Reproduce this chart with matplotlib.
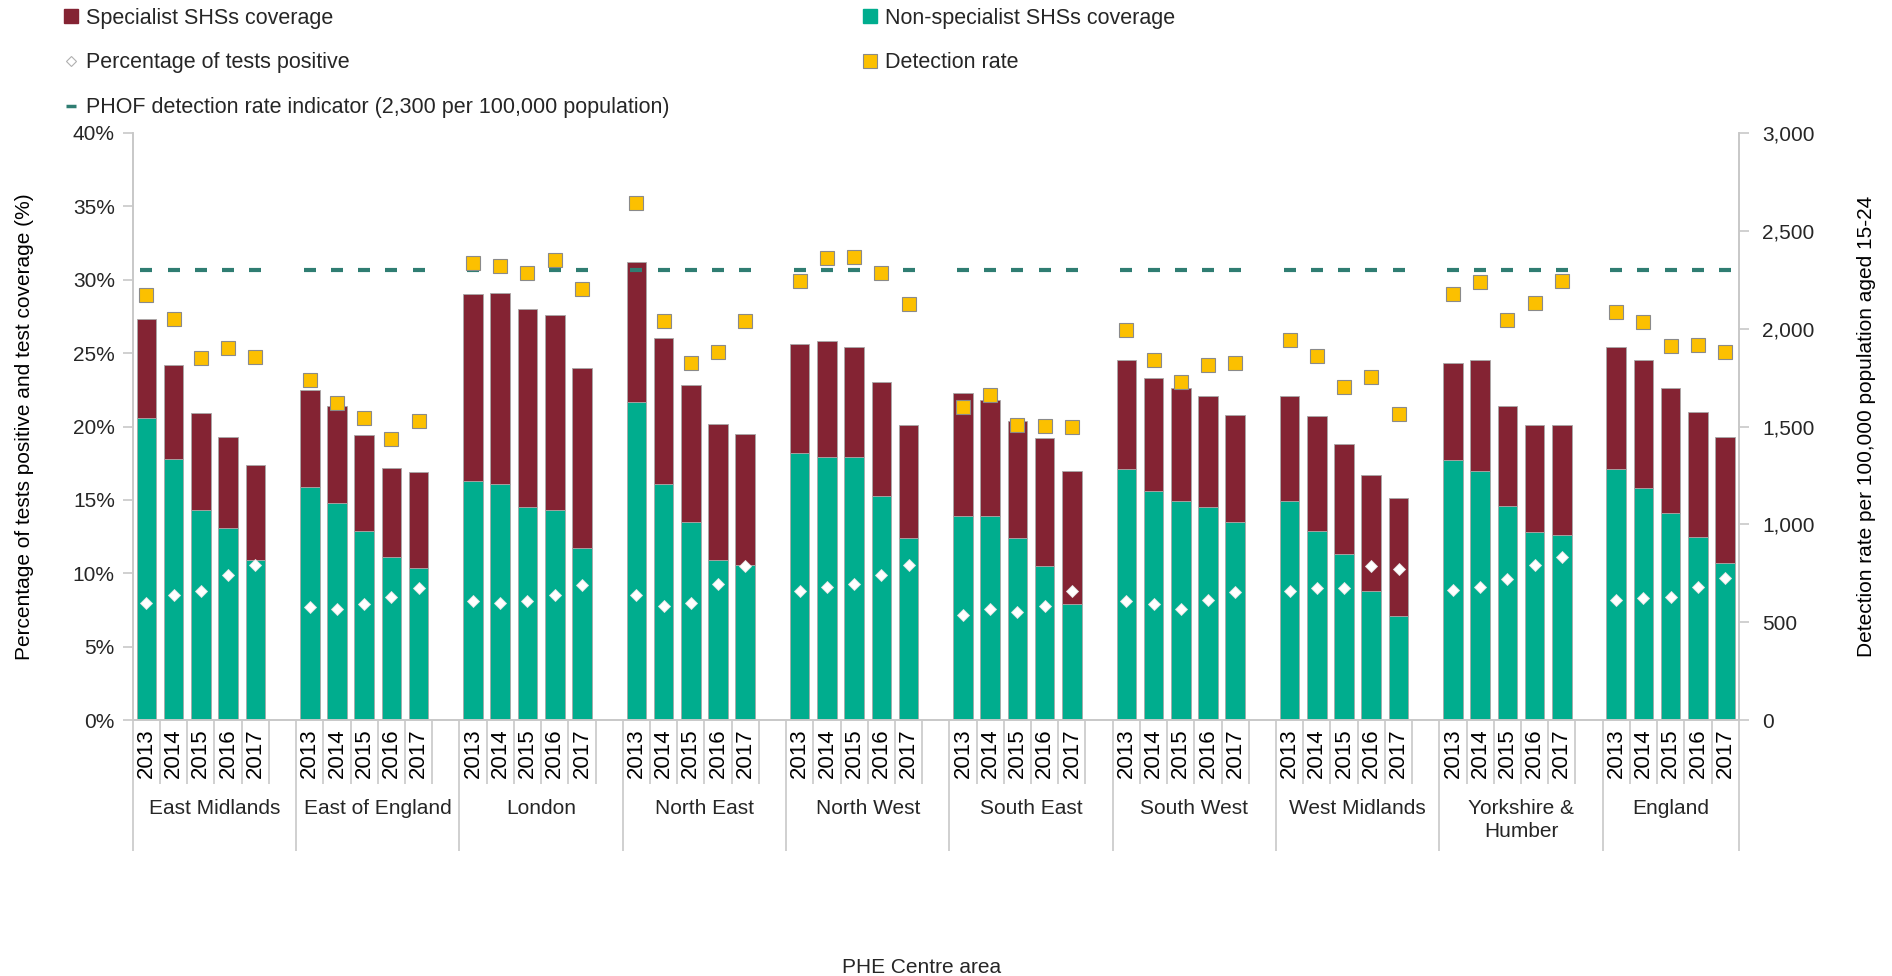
import matplotlib.pyplot as plt
from matplotlib.lines import Line2D
from matplotlib.ticker import FuncFormatter, MultipleLocator
import numpy as np

plt.rcParams['font.family'] = ['Liberation Sans', 'DejaVu Sans']
plt.rcParams['text.color'] = '#262626'

areas = ['East Midlands', 'East of England', 'London', 'North East', 'North West',
         'South East', 'South West', 'West Midlands', 'Yorkshire &\nHumber', 'England']
years = ['2013', '2014', '2015', '2016', '2017']

# coverage (%) split by service type, one row per area, 2013-2017
non_specialist = [
    [20.6, 17.8, 14.3, 13.1, 10.9],
    [15.9, 14.8, 12.9, 11.1, 10.4],
    [16.3, 16.1, 14.5, 14.3, 11.7],
    [21.7, 16.1, 13.5, 10.9, 10.6],
    [18.2, 17.9, 17.9, 15.3, 12.4],
    [13.9, 13.9, 12.4, 10.5, 7.9],
    [17.1, 15.6, 14.9, 14.5, 13.5],
    [14.9, 12.9, 11.3, 8.8, 7.1],
    [17.7, 17.0, 14.6, 12.8, 12.6],
    [17.1, 15.8, 14.1, 12.5, 10.7],
]
specialist = [
    [6.7, 6.4, 6.6, 6.2, 6.5],
    [6.6, 6.6, 6.5, 6.1, 6.5],
    [12.7, 13.0, 13.5, 13.3, 12.3],
    [9.5, 9.9, 9.3, 9.3, 8.9],
    [7.4, 7.9, 7.5, 7.7, 7.7],
    [8.4, 7.9, 8.0, 8.7, 9.1],
    [7.4, 7.7, 7.7, 7.6, 7.3],
    [7.2, 7.8, 7.5, 7.9, 8.0],
    [6.6, 7.5, 6.8, 7.3, 7.5],
    [8.3, 8.7, 8.5, 8.5, 8.6],
]
positivity = [
    [8.0, 8.5, 8.8, 9.9, 10.6],
    [7.7, 7.6, 7.9, 8.4, 9.0],
    [8.1, 8.0, 8.1, 8.5, 9.2],
    [8.5, 7.8, 8.0, 9.3, 10.5],
    [8.8, 9.1, 9.3, 9.9, 10.6],
    [7.2, 7.6, 7.4, 7.8, 8.8],
    [8.1, 7.9, 7.6, 8.2, 8.7],
    [8.8, 9.0, 9.0, 10.5, 10.3],
    [8.9, 9.1, 9.6, 10.6, 11.1],
    [8.2, 8.3, 8.4, 9.1, 9.7],
]
# detection rate per 100,000 population aged 15-24
detection = [
    [2173, 2048, 1848, 1899, 1853],
    [1735, 1622, 1541, 1436, 1529],
    [2335, 2319, 2285, 2349, 2204],
    [2640, 2040, 1822, 1879, 2038],
    [2244, 2360, 2368, 2283, 2125],
    [1602, 1663, 1509, 1503, 1499],
    [1992, 1838, 1729, 1812, 1822],
    [1941, 1859, 1703, 1754, 1562],
    [2177, 2239, 2046, 2132, 2243],
    [2086, 2034, 1913, 1915, 1881],
]
phof_target = 2300

maroon = '#842333'
teal = '#00ad8e'
gold = '#fcc000'
dash_col = '#2f7d72'
grey = '#c8c8c8'

# each area gets 5 year slots plus an empty slot, except the last one
n_groups = len(areas)
slots_per_group = [6] * (n_groups - 1) + [5]
group_start = np.concatenate([[0], np.cumsum(slots_per_group)[:-1]])
n_slots = int(sum(slots_per_group))

x = np.array([[group_start[g] + s + 0.5 for s in range(len(years))] for g in range(n_groups)])
ns = np.array(non_specialist)
sp = np.array(specialist)
pos = np.array(positivity)
det = np.array(detection)

fig = plt.figure(figsize=(18.92, 9.76), dpi=100)
ax = fig.add_axes([0.0702, 0.262, 0.8488, 0.602])
ax2 = ax.twinx()

bw = 0.72
ax.bar(x.ravel(), ns.ravel(), width=bw, color=teal, edgecolor='#a8a8a8', linewidth=0.6, zorder=2)
ax.bar(x.ravel(), sp.ravel(), width=bw, bottom=ns.ravel(), color=maroon,
       edgecolor='#a8a8a8', linewidth=0.6, zorder=2)
ax.plot(x.ravel(), pos.ravel(), linestyle='none', marker='D', markersize=6,
        markerfacecolor='white', markeredgecolor='#e4e4e4', markeredgewidth=0.6, zorder=4)

ax2.plot(x.ravel(), [phof_target] * x.size, linestyle='none', marker='_', markersize=8,
         markeredgewidth=3, color=dash_col, zorder=3)
ax2.plot(x.ravel(), det.ravel(), linestyle='none', marker='s', markersize=9.5,
         markerfacecolor=gold, markeredgecolor='#8a8a8a', markeredgewidth=0.8, zorder=4)

ax.set_xlim(0, n_slots)
ax.set_ylim(0, 40)
ax2.set_ylim(0, 3000)
ax.yaxis.set_major_locator(MultipleLocator(5))
ax2.yaxis.set_major_locator(MultipleLocator(500))
ax.yaxis.set_major_formatter(FuncFormatter(lambda v, p: f'{v:.0f}%'))
ax2.yaxis.set_major_formatter(FuncFormatter(lambda v, p: f'{v:,.0f}'))

for a in (ax, ax2):
    a.spines['top'].set_visible(False)
    for side in ('left', 'right', 'bottom'):
        a.spines[side].set_color(grey)
        a.spines[side].set_linewidth(1.2)
    a.tick_params(axis='y', colors=grey, labelcolor='#262626', labelsize=15, length=7, width=1.2)
ax.tick_params(axis='y', pad=6)
ax2.tick_params(axis='y', pad=10)

# year labels under each bar, blanks in the spacer slots
tick_pos = np.arange(n_slots) + 0.5
tick_lab = []
for g in range(n_groups):
    tick_lab += years + [''] * (slots_per_group[g] - len(years))
ax.set_xticks(tick_pos)
ax.set_xticklabels(tick_lab, rotation=90, fontsize=16, va='top')
ax.tick_params(axis='x', length=0, pad=6)

# category separators: short ones between years, long ones between areas
xt = ax.get_xaxis_transform()
group_edges = list(group_start) + [n_slots]
year_edges = [k for k in range(n_slots + 1) if k not in group_edges]
ax.vlines(year_edges, -0.108, 0, transform=xt, colors=grey, linewidth=1.2, clip_on=False)
ax.vlines(group_edges, -0.222, 0, transform=xt, colors=grey, linewidth=1.2, clip_on=False)

for g, name in enumerate(areas):
    cx = group_start[g] + slots_per_group[g] / 2
    ax.text(cx, -0.134, name, transform=xt, ha='center', va='top', fontsize=15,
            linespacing=1.25)

ax.text(0.491, -0.42, 'PHE Centre area', transform=ax.transAxes, ha='center',
        va='center', fontsize=15)
ax.set_ylabel('Percentage of tests positive and test coverage (%)', fontsize=15)
ax.yaxis.set_label_coords(-0.0615, 0.5)
ax2.set_ylabel('Detection rate per 100,000 population aged 15-24', fontsize=15, rotation=90)
ax2.yaxis.set_label_coords(1.0735, 0.5)

h_spec = Line2D([], [], linestyle='none', marker='s', markersize=10, color=maroon)
h_non = Line2D([], [], linestyle='none', marker='s', markersize=10, color=teal)
h_pos = Line2D([], [], linestyle='none', marker='D', markersize=5,
               markerfacecolor='white', markeredgecolor='#b0b0b0', markeredgewidth=0.8)
h_det = Line2D([], [], linestyle='none', marker='s', markersize=10,
               markerfacecolor=gold, markeredgecolor='#8a8a8a', markeredgewidth=0.8)
h_phof = Line2D([], [], linestyle='none', marker='_', markersize=7, markeredgewidth=2.5,
                color=dash_col)

leg_kw = dict(frameon=False, fontsize=15.5, handlelength=0.6, handletextpad=0.4,
              labelspacing=1.1, borderpad=0, borderaxespad=0, loc='upper left')
fig.legend([h_spec, h_pos, h_phof],
           ['Specialist SHSs coverage', 'Percentage of tests positive',
            'PHOF detection rate indicator (2,300 per 100,000 population)'],
           bbox_to_anchor=(0.034, 0.992), **leg_kw)
fig.legend([h_non, h_det], ['Non-specialist SHSs coverage', 'Detection rate'],
           bbox_to_anchor=(0.4565, 0.992), **leg_kw)

fig.savefig('out.png', dpi=100)
